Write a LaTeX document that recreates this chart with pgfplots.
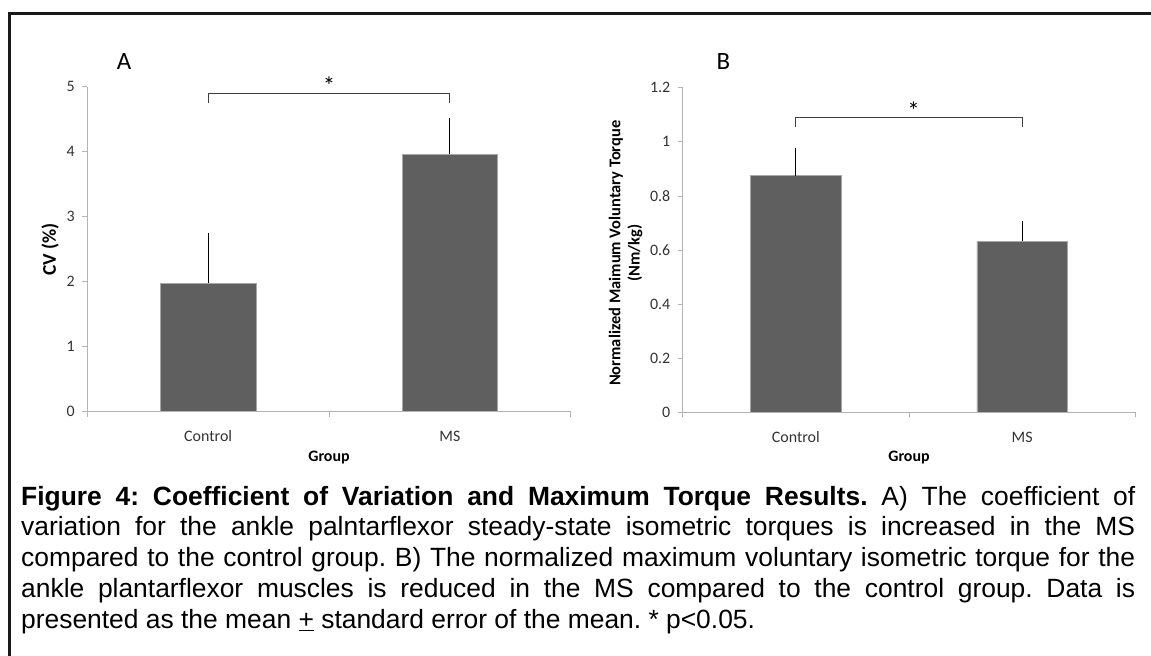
\documentclass[border=0pt]{standalone}
\usepackage{fontspec}
\usepackage{graphicx}
\usepackage{pgfplots}
\pgfplotsset{compat=1.18}

\newfontfamily\chartfont{Carlito}
\newfontfamily\capfont{Liberation Sans}

\definecolor{barfill}{HTML}{5F5F5F}
\definecolor{barline}{HTML}{A8A8A8}
\definecolor{axisgray}{HTML}{B3B3B3}
\definecolor{ticktext}{HTML}{333333}
\definecolor{brackgray}{HTML}{404040}

\pgfplotsset{
  excelbar/.style={
    scale only axis,
    axis on top,
    clip=false,
    xmin=-0.5, xmax=1.5, ymin=0,
    axis x line*=bottom, axis y line*=left,
    axis line style={draw=axisgray, line width=0.8bp, -},
    xtick={-0.5,0.5,1.5}, xticklabels={,,},
    extra x ticks={0,1}, extra x tick labels={Control,MS},
    extra x tick style={tick style={draw=none}},
    tick align=outside, major tick length=5bp,
    tick style={draw=axisgray, line width=0.8bp},
    /pgf/number format/assume math mode=true,
    ticklabel style={font=\chartfont\fontsize{16}{16}\selectfont, text=ticktext},
    yticklabel style={xshift=-4bp},
    xticklabel style={yshift=-10bp, text height=11.5bp, text depth=0pt},
    xlabel={Group},
    xlabel style={font=\chartfont\bfseries\fontsize{16}{16}\selectfont,
      anchor=center, at={(axis description cs:0.5,-0.14)}},
    ylabel style={font=\chartfont\bfseries, anchor=center},
  },
  sebar/.style={
    ybar, fill=barfill, draw=barline, line width=0.6bp,
    error bars/.cd, y dir=plus, y explicit,
    error bar style={black, line width=1bp},
    error mark options={black, line width=1bp, mark size=2.2bp},
  },
}

\begin{document}
\begin{tikzpicture}
\path[use as bounding box] (0,0) rectangle (1151bp,-656bp);
\draw[line width=2.2bp, black!90] (9.5bp,-700bp) -- (9.5bp,-13.5bp) -- (1200bp,-13.5bp);

% Panel A: coefficient of variation
\begin{axis}[excelbar,
  at={(87.3bp,-411.7bp)}, anchor=south west,
  width=483.4bp, height=325bp,
  ymax=5, ytick={0,1,2,3,4,5},
  bar width=95.6bp,
  ylabel={\fontsize{19.5}{19.5}\selectfont CV (\%)},
  ylabel style={at={(axis description cs:-0.077,0.5)}},
]
\addplot[sebar] coordinates {(0,1.975) +- (0,0.745) (1,3.96) +- (0,0.52)};
\draw[brackgray, line width=1bp] (axis cs:0,4.75) |- (axis cs:1,4.89) -- (axis cs:1,4.75);
\node[font=\chartfont\fontsize{25}{25}\selectfont, yshift=-3bp] at (axis cs:0.5,5.06) {*};
\node[font=\chartfont\fontsize{25}{25}\selectfont] at (axis description cs:0.076,1.077) {A};
\end{axis}

% Panel B: normalized maximum voluntary torque
\begin{axis}[excelbar,
  at={(682.7bp,-412.3bp)}, anchor=south west,
  width=452.6bp, height=324.6bp,
  ymax=1.2, ytick={0,0.2,0.4,0.6,0.8,1,1.2},
  bar width=90.7bp,
  ylabel={\fontsize{16.5}{19.5}\selectfont\begin{tabular}{@{}c@{}}Normalized Maimum Voluntary Torque\\(Nm/kg)\end{tabular}},
  ylabel style={at={(axis description cs:-0.125,0.49)}},
]
\addplot[sebar] coordinates {(0,0.875) +- (0,0.094) (1,0.632) +- (0,0.067)};
\draw[brackgray, line width=1bp] (axis cs:0,1.055) |- (axis cs:1,1.09) -- (axis cs:1,1.055);
\node[font=\chartfont\fontsize{25}{25}\selectfont, yshift=-3bp] at (axis cs:0.52,1.125) {*};
\node[font=\chartfont\fontsize{25}{25}\selectfont] at (axis description cs:0.0897,1.08) {B};
\end{axis}

% Figure caption
\node[anchor=base west, inner sep=0] at (21bp,-505bp) {\parbox[t]{1114bp}{%
\capfont\fontsize{26.5}{31}\selectfont\frenchspacing\hbadness=10000\noindent
\textbf{Figure 4: Coefficient of Variation and Maximum Torque Results.} A) The coefficient of\linebreak
variation for the ankle palntarflexor steady-state isometric torques is increased in the MS\linebreak
compared to the control group. B) The normalized maximum voluntary isometric torque for the\linebreak
ankle plantarflexor muscles is reduced in the MS compared to the control group. Data is\linebreak
presented as the mean \underline{+} standard error of the mean. * p<0.05.}};
\end{tikzpicture}
\end{document}
